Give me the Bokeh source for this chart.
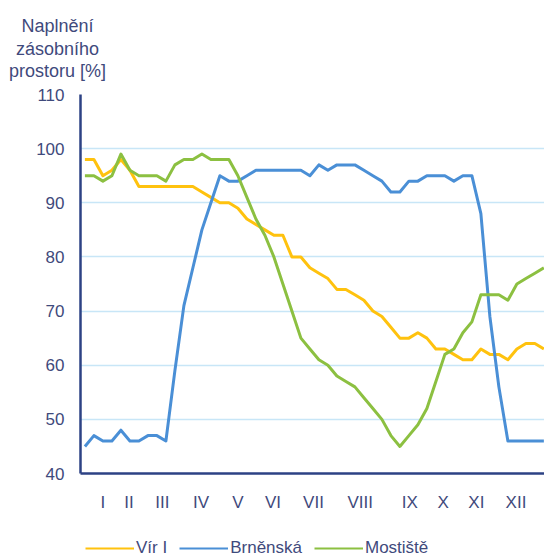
from bokeh.plotting import figure
from bokeh.layouts import column
from bokeh.models import Legend, LegendItem, Label, FixedTicker, Range1d
from bokeh.embed import file_html
from bokeh.resources import INLINE

# ---- data (weekly reservoir storage, % of capacity) ----
weeks = list(range(1, 53))
vir = [98, 98, 95, 96, 98, 96, 93, 93, 93, 93, 93, 93, 93, 92, 91, 90, 90, 89, 87, 86,
       85, 84, 84, 80, 80, 78, 77, 76, 74, 74, 73, 72, 70, 69, 67, 65, 65, 66, 65, 63,
       63, 62, 61, 61, 63, 62, 62, 61, 63, 64, 64, 63]
brnenska = [45, 47, 46, 46, 48, 46, 46, 47, 47, 46, 59, 71, 78, 85, 90, 95, 94, 94, 95, 96,
            96, 96, 96, 96, 96, 95, 97, 96, 97, 97, 97, 96, 95, 94, 92, 92, 94, 94, 95, 95,
            95, 94, 95, 95, 88, 69, 56, 46, 46, 46, 46, 46]
mostiste = [95, 95, 94, 95, 99, 96, 95, 95, 95, 94, 97, 98, 98, 99, 98, 98, 98, 95, 91, 87,
            84, 80, 75, 70, 65, 63, 61, 60, 58, 57, 56, 54, 52, 50, 47, 45, 47, 49, 52, 57,
            62, 63, 66, 68, 73, 73, 73, 72, 75, 76, 77, 78]
series_names = ["Vír I", "Brněnská", "Mostiště"]
month_labels = ["I", "II", "III", "IV", "V", "VI", "VII", "VIII", "IX", "X", "XI", "XII"]
month_weeks = [3.0, 5.9, 9.6, 13.9, 18.0, 21.9, 26.4, 31.6, 37.1, 40.8, 44.5, 48.9]
y_ticks = [40, 50, 60, 70, 80, 90, 100, 110]
y_title = ["Naplnění", "zásobního", "prostoru [%]"]
all_series = [vir, brnenska, mostiste]

TEXT = "#3F4A7C"
AXIS = "#2D4284"
GRID = "#C8E6F7"
FONT = "Liberation Sans"
colors = ["#FFC20E", "#4A8FD6", "#8CC041"]

W = 544
HEAD_H, MAIN_H, LEG_H = 84, 430, 44


def blank_fig(h, xr=(0, W)):
    f = figure(width=W, height=h, output_backend="svg", toolbar_location=None,
               x_range=Range1d(*xr), y_range=Range1d(0, h),
               x_axis_location=None, y_axis_location=None,
               min_border=0, min_border_left=0, min_border_right=0,
               min_border_top=0, min_border_bottom=0)
    f.frame_align = False
    f.outline_line_color = None
    f.xgrid.grid_line_color = None
    f.ygrid.grid_line_color = None
    f.background_fill_color = "white"
    f.border_fill_color = "white"
    return f


# ---- header with the y-axis title ----
head = blank_fig(HEAD_H)
for i, t in enumerate(y_title):
    head.add_layout(Label(x=57, y=58.6 - 22.7 * i, x_units="screen", y_units="screen",
                          text=t, text_align="center", text_baseline="middle",
                          text_font=FONT, text_font_size="18px", text_color=TEXT))

# ---- main chart ----
p = figure(width=W, height=MAIN_H, output_backend="svg", toolbar_location=None,
           x_range=Range1d(0.51, 52.07), y_range=Range1d(40, 110),
           min_border_left=80, min_border_right=0, min_border_top=10, min_border_bottom=41)
p.frame_align = False
p.outline_line_color = None
p.background_fill_color = "white"
p.border_fill_color = "white"

for vals, c in zip(all_series, colors):
    p.line(weeks, vals, line_color=c, line_width=3, line_join="round")

p.xaxis.ticker = FixedTicker(ticks=month_weeks)
p.xaxis.major_label_overrides = {w: m for w, m in zip(month_weeks, month_labels)}
p.yaxis.ticker = FixedTicker(ticks=y_ticks)
for ax in (p.xaxis[0], p.yaxis[0]):
    ax.axis_line_color = AXIS
    ax.axis_line_width = 2.5
    ax.major_tick_line_color = None
    ax.minor_tick_line_color = None
    ax.major_label_text_color = TEXT
    ax.major_label_text_font = FONT
    ax.major_label_text_font_size = "17px"
p.yaxis.major_label_standoff = 10
p.xaxis.major_label_standoff = 13

p.xgrid.grid_line_color = None
p.ygrid.ticker = FixedTicker(ticks=y_ticks)
p.ygrid.grid_line_color = GRID
p.ygrid.grid_line_width = 1.5

# ---- legend strip (series drawn outside its visible x range; only the legend shows) ----
lf = blank_fig(LEG_H, xr=(1000, 1000 + W))
items = []
for n, vals, c in zip(series_names, all_series, colors):
    r = lf.line(weeks, vals, line_color=c, line_width=2.2)
    items.append(LegendItem(label=n, renderers=[r]))
legend = Legend(items=items, orientation="horizontal", location=(85, 0))
legend.glyph_width = 49
legend.glyph_height = 20
legend.label_height = 20
legend.label_standoff = 2
legend.spacing = 12
legend.padding = 0
legend.margin = 0
legend.border_line_color = None
legend.background_fill_alpha = 0
legend.label_text_font = FONT
legend.label_text_font_size = "17px"
legend.label_text_color = TEXT
lf.add_layout(legend)

layout = column(head, p, lf, spacing=0)
open("out.html", "w").write(file_html(layout, INLINE))
